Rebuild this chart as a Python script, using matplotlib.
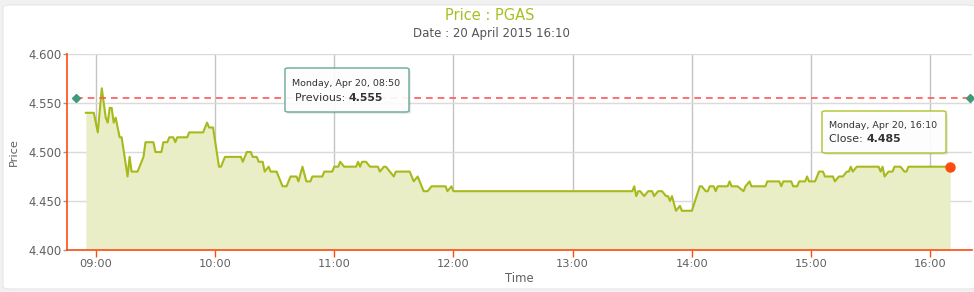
import matplotlib.pyplot as plt
import matplotlib.dates as mdates
from matplotlib.patches import FancyBboxPatch
from matplotlib.text import Annotation
import pandas as pd

plt.rcParams['font.family'] = ['DejaVu Sans']

# ================== data ==================
times = [
    "08:55", "08:59", "09:01", "09:03", "09:05", "09:06", "09:07", "09:08", "09:09", "09:10",
    "09:12", "09:13", "09:16", "09:17", "09:18", "09:21", "09:24", "09:25", "09:29", "09:30",
    "09:33", "09:34", "09:36", "09:37", "09:39", "09:40", "09:41", "09:46", "09:47", "09:54",
    "09:56", "09:57", "09:59", "10:02", "10:03", "10:05", "10:13", "10:14", "10:16", "10:18",
    "10:19", "10:21", "10:22", "10:24", "10:25", "10:27", "10:28", "10:31", "10:34", "10:36",
    "10:38", "10:41", "10:42", "10:44", "10:46", "10:48", "10:49", "10:54", "10:55", "10:59",
    "11:00", "11:02", "11:03", "11:05", "11:11", "11:12", "11:13", "11:14", "11:16", "11:18",
    "11:22", "11:23", "11:25", "11:26", "11:28", "11:30", "11:31", "11:38", "11:39", "11:40",
    "11:42", "11:45", "11:47", "11:49", "11:56", "11:57", "11:59", "12:00", "13:30", "13:31",
    "13:32", "13:33", "13:34", "13:36", "13:38", "13:40", "13:41", "13:43", "13:45", "13:47",
    "13:48", "13:49", "13:50", "13:52", "13:54", "13:55", "14:00", "14:04", "14:05", "14:07",
    "14:08", "14:09", "14:11", "14:12", "14:13", "14:18", "14:19", "14:20", "14:23", "14:26",
    "14:27", "14:29", "14:30", "14:37", "14:38", "14:44", "14:45", "14:46", "14:50", "14:51",
    "14:53", "14:54", "14:57", "14:58", "14:59", "15:02", "15:04", "15:06", "15:07", "15:11",
    "15:12", "15:14", "15:16", "15:18", "15:19", "15:20", "15:21", "15:23", "15:34", "15:35",
    "15:36", "15:37", "15:39", "15:41", "15:42", "15:45", "15:47", "15:48", "15:49", "16:10",
]
prices = [
    4.540, 4.540, 4.520, 4.565, 4.535, 4.530, 4.545, 4.545, 4.530, 4.535,
    4.515, 4.515, 4.475, 4.495, 4.480, 4.480, 4.495, 4.510, 4.510, 4.500,
    4.500, 4.510, 4.510, 4.515, 4.515, 4.510, 4.515, 4.515, 4.520, 4.520,
    4.530, 4.525, 4.525, 4.485, 4.485, 4.495, 4.495, 4.490, 4.500, 4.500,
    4.495, 4.495, 4.490, 4.490, 4.480, 4.485, 4.480, 4.480, 4.465, 4.465,
    4.475, 4.475, 4.470, 4.485, 4.470, 4.470, 4.475, 4.475, 4.480, 4.480,
    4.485, 4.485, 4.490, 4.485, 4.485, 4.490, 4.485, 4.490, 4.490, 4.485,
    4.485, 4.480, 4.485, 4.485, 4.480, 4.475, 4.480, 4.480, 4.475, 4.470,
    4.475, 4.460, 4.460, 4.465, 4.465, 4.460, 4.465, 4.460, 4.460, 4.465,
    4.455, 4.460, 4.460, 4.455, 4.460, 4.460, 4.455, 4.460, 4.460, 4.455,
    4.455, 4.450, 4.455, 4.440, 4.445, 4.440, 4.440, 4.465, 4.465, 4.460,
    4.460, 4.465, 4.465, 4.460, 4.465, 4.465, 4.470, 4.465, 4.465, 4.460,
    4.465, 4.470, 4.465, 4.465, 4.470, 4.470, 4.465, 4.470, 4.470, 4.465,
    4.465, 4.470, 4.470, 4.475, 4.470, 4.470, 4.480, 4.480, 4.475, 4.475,
    4.470, 4.475, 4.475, 4.480, 4.480, 4.485, 4.480, 4.485, 4.485, 4.480,
    4.485, 4.475, 4.480, 4.480, 4.485, 4.485, 4.480, 4.480, 4.485, 4.485,
]
prev_close = 4.555
prev_span = ["08:50", "16:20"]
x_range = ["08:45:30", "16:21:00"]
y_ticks = [4.400, 4.450, 4.500, 4.550, 4.600]
x_ticks = ["09:00", "10:00", "11:00", "12:00", "13:00", "14:00", "15:00", "16:00"]

DAY = "2015-04-20 "
def ts(lst):
    return pd.to_datetime([DAY + t for t in lst], format='mixed')

t = ts(times)
p = pd.Series(prices)

LINE = "#a8b91c"
FILL = "#e9eec6"
AXIS_RED = "#ff4a10"
TXT = "#606060"

W, H = 974, 292
fig = plt.figure(figsize=(W / 100, H / 100), dpi=100)
fig.patch.set_facecolor("#f1f1f1")

def fx(x):
    return x / W

def fy(y):
    return 1 - y / H

# white panel
fig.add_artist(FancyBboxPatch((fx(3), fy(289)), fx(975) - fx(3), fy(5) - fy(289),
                              boxstyle="round,pad=0,rounding_size=0.008",
                              transform=fig.transFigure, facecolor="white",
                              edgecolor="#e6e6e6", linewidth=0.8, zorder=-1))

ax = fig.add_axes([fx(67), fy(250), fx(972) - fx(67), fy(54) - fy(250)])
ax.set_facecolor("none")

ax.fill_between(t, p, y_ticks[0], color=FILL, linewidth=0, zorder=2)
ax.plot(t, p, color=LINE, linewidth=1.5, zorder=3)
ax.plot(t[-1:], p.iloc[-1:], 'o', color=AXIS_RED, markersize=6.5, zorder=5)

span = ts(prev_span)
ax.plot(span, [prev_close, prev_close], color="#ff5757", linewidth=1.2,
        dashes=(4, 3), zorder=4)
ax.plot(span, [prev_close, prev_close], 'D', color="#3f9a78", markersize=4.5,
        linestyle='none', zorder=5, clip_on=False)

ax.set_xlim(ts(x_range))
ax.set_ylim(y_ticks[0], y_ticks[-1])
ax.set_yticks(y_ticks)
ax.set_yticklabels([f"{v:.3f}" for v in y_ticks])
ax.set_xticks(ts(x_ticks))
ax.xaxis.set_major_formatter(mdates.DateFormatter('%H:%M'))

ax.grid(axis='y', color="#dadada", linewidth=1, zorder=0)
ax.grid(axis='x', color="#c4c4c4", linewidth=1, zorder=0)
ax.set_axisbelow(True)

for s in ['top', 'right']:
    ax.spines[s].set_visible(False)
ax.spines['left'].set_color(AXIS_RED)
ax.spines['bottom'].set_color(AXIS_RED)
ax.spines['left'].set_linewidth(1.2)
ax.spines['bottom'].set_linewidth(1.2)
ax.spines['left'].set_zorder(6)
ax.spines['bottom'].set_zorder(6)

ax.tick_params(axis='x', colors=AXIS_RED, length=5, width=1, labelcolor=TXT,
               labelsize=8.2, pad=1.5)
ax.tick_params(axis='y', colors="#999999", length=3, width=1, labelcolor=TXT,
               labelsize=8.4, pad=1)

ax.set_xlabel("Time", fontsize=8.4, color=TXT, labelpad=2)
ax.set_ylabel("Price", fontsize=8.2, color=TXT, labelpad=7)

fig.text(fx(490), fy(15), "Price : PGAS", ha='center', va='center', fontsize=10.5,
         color="#a9be22")
fig.text(fx(491), fy(33), "Date : 20 April 2015 16:10", ha='center', va='center',
         fontsize=8.5, color="#555555")

# ================== tooltips ==================
def tooltip(x0, y0, x1, y1, edge, line1, label, value, tx, tx2, ty1, ty2):
    shadow = FancyBboxPatch((fx(x0 + 2), fy(y1 + 2)), fx(x1) - fx(x0), fy(y0) - fy(y1),
                            boxstyle="round,pad=0,rounding_size=0.004",
                            transform=fig.transFigure, facecolor="#000000",
                            edgecolor="none", alpha=0.08, zorder=9)
    fig.add_artist(shadow)
    box = FancyBboxPatch((fx(x0), fy(y1)), fx(x1) - fx(x0), fy(y0) - fy(y1),
                         boxstyle="round,pad=0,rounding_size=0.004",
                         transform=fig.transFigure, facecolor="white",
                         edgecolor=edge, linewidth=1.1, alpha=0.92, zorder=10)
    fig.add_artist(box)
    fig.text(fx(tx), fy(ty1), line1, fontsize=6.8, color="#333333",
             va='center', ha='left', zorder=11)
    t1 = fig.text(fx(tx2), fy(ty2), label, fontsize=7.9, color="#333333",
                  va='center', ha='left', zorder=11)
    fig.add_artist(Annotation(value, xy=(1, 0.5), xycoords=t1, fontsize=7.9,
                              fontweight='bold', color="#333333",
                              va='center', ha='left', zorder=11))

tooltip(285, 68, 409, 112, "#6aa996", "Monday, Apr 20, 08:50", "Previous: ",
        f"{prev_close:.3f}", 292, 295, 83.5, 97.5)
tooltip(822, 111, 946, 153, "#b1c12e", "Monday, Apr 20, 16:10", "Close: ",
        f"{prices[-1]:.3f}", 829, 829, 126, 139.5)

plt.savefig("out.png", dpi=100, facecolor=fig.get_facecolor())
